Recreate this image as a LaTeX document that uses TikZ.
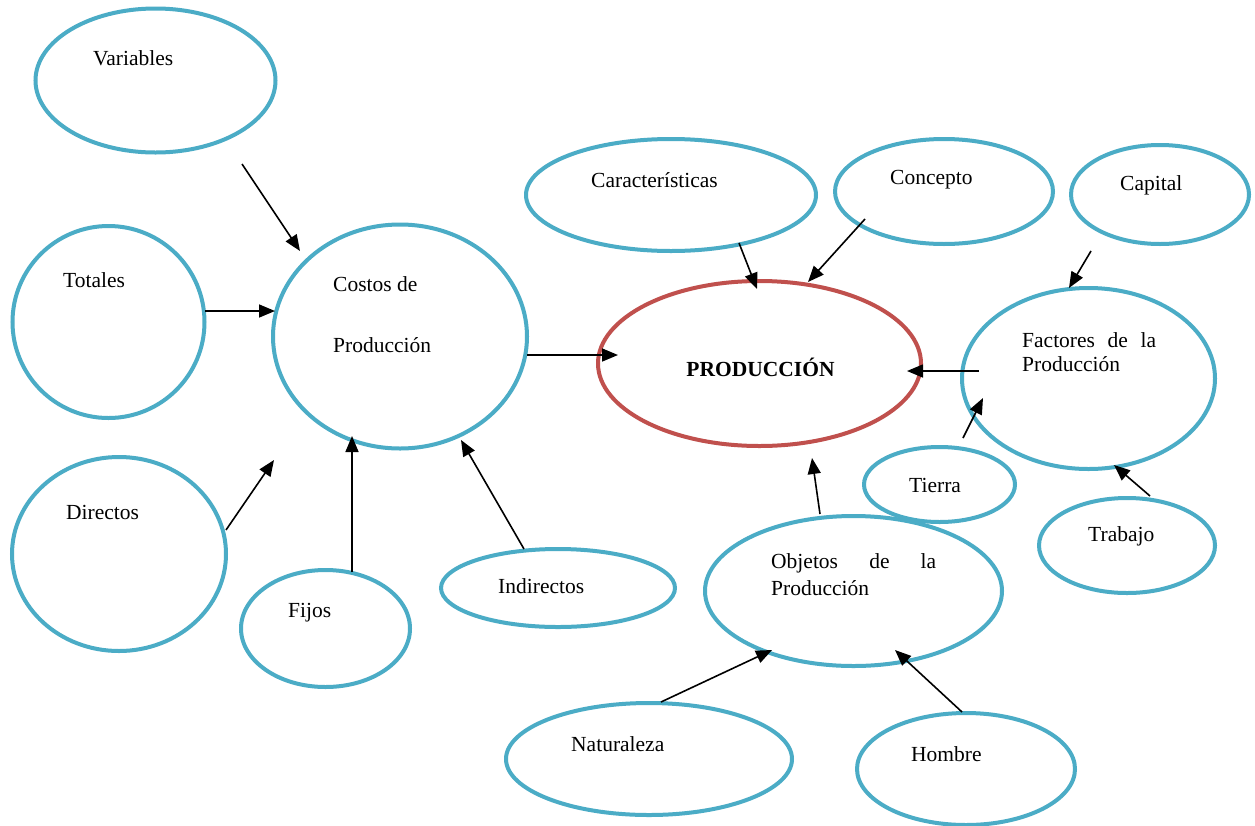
\documentclass[tikz,border=0pt]{standalone}
\usepackage{fontspec}
\setmainfont{Liberation Serif}
\usetikzlibrary{arrows.meta,shapes.geometric}
\definecolor{ovblue}{HTML}{4BACC6}
\definecolor{ovred}{HTML}{C0504D}
\begin{document}
\begin{tikzpicture}[x=1pt,y=-1pt,
  ov/.style={draw=ovblue,line width=4pt,ellipse,inner sep=0pt,outer sep=0pt},
  lbl/.style={anchor=west,inner sep=0pt,font=\fontsize{21.5}{25}\selectfont},
  arr/.style={line width=1.6pt,-{Triangle[length=16pt,width=13pt]}}]
\useasboundingbox (0,0) rectangle (1255,825);
\fill[white] (0,0) rectangle (1255,825);
% ellipses
\node[ov,minimum width=240pt,minimum height=144pt] (var) at (155.5,80.5) {};
\node[ov,minimum width=192pt,minimum height=192pt] (tot) at (108.5,322) {};
\node[ov,minimum width=254pt,minimum height=224pt] (cos) at (400,336.5) {};
\node[ov,minimum width=214pt,minimum height=194pt] (dir) at (119,554) {};
\node[ov,minimum width=169pt,minimum height=117pt] (fij) at (325.5,628.5) {};
\node[ov,minimum width=234pt,minimum height=78pt] (ind) at (558,588) {};
\node[ov,minimum width=290pt,minimum height=112pt] (car) at (671,195) {};
\node[ov,minimum width=218pt,minimum height=105pt] (con) at (944,191.5) {};
\node[ov,minimum width=178pt,minimum height=99pt] (cap) at (1160,194.5) {};
\node[ov,draw=ovred,minimum width=323pt,minimum height=165pt] (pro) at (759.5,363.5) {};
\node[ov,minimum width=253pt,minimum height=181pt] (fac) at (1088.5,378.5) {};
\node[ov,minimum width=151pt,minimum height=75pt] (tie) at (939.5,484.5) {};
\node[ov,minimum width=176pt,minimum height=95pt] (tra) at (1127,545.5) {};
\node[ov,minimum width=297pt,minimum height=150pt] (obj) at (853.5,591) {};
\node[ov,minimum width=286pt,minimum height=112pt] (nat) at (649,759) {};
\node[ov,minimum width=218pt,minimum height=112pt] (hom) at (966,769) {};
% labels
\node[lbl] (tvar) at (93,58) {Variables};
\node[lbl] (ttot) at (63,280) {Totales};
\node[lbl] (tcos1) at (333,284) {Costos de};
\node[lbl] (tcos2) at (333,345) {Producción};
\node[lbl] (tdir) at (66,512) {Directos};
\node[lbl] (tfij) at (288,613) {Fijos};
\node[lbl] (tind) at (498,586) {Indirectos};
\node[lbl] (tcar) at (591,180) {Características};
\node[lbl] (tcon) at (890,180) {Concepto};
\node[lbl] (tcap) at (1120,185) {Capital};
\node[inner sep=0pt,font=\fontsize{21.5}{25}\selectfont\bfseries] (tpro) at (760.5,367) {PRODUCCIÓN};
\node[lbl] (tfac1) at (1022,340) {\makebox[134pt][s]{Factores de la}};
\node[lbl] (tfac2) at (1022,364) {Producción};
\node[lbl] (ttie) at (909,485) {Tierra};
\node[lbl] (ttra) at (1088,536) {Trabajo};
\node[lbl] (tobj1) at (771,563) {\makebox[165pt][s]{Objetos de la}};
\node[lbl] (tobj2) at (771,588) {Producción};
\node[lbl] (tnat) at (571,744) {Naturaleza};
\node[lbl] (thom) at (911,754) {Hombre};
% arrow end points
\coordinate (a1s) at (242,164);  \coordinate (a1e) at (300,251);
\coordinate (a2s) at (205,311);  \coordinate (a2e) at (275,311);
\coordinate (a3s) at (226,530);  \coordinate (a3e) at (274,460);
\coordinate (a4s) at (352,572);  \coordinate (a4e) at (352,436);
\coordinate (a5s) at (524,549);  \coordinate (a5e) at (461,440);
\coordinate (a6s) at (527,355);  \coordinate (a6e) at (618,355);
\coordinate (a7s) at (739,243);  \coordinate (a7e) at (757,289);
\coordinate (a8s) at (865,219);  \coordinate (a8e) at (808,282);
\coordinate (a9s) at (1091,251); \coordinate (a9e) at (1069,288);
\coordinate (a10s) at (979,371); \coordinate (a10e) at (907,371);
\coordinate (a11s) at (963,438); \coordinate (a11e) at (983,398);
\coordinate (a12s) at (1150,496); \coordinate (a12e) at (1114,465);
\coordinate (a13s) at (820,514); \coordinate (a13e) at (812,458);
\coordinate (a14s) at (661,702); \coordinate (a14e) at (772,650);
\coordinate (a15s) at (962,712); \coordinate (a15e) at (895,650);
\foreach \i in {1,...,15} {\draw[arr] (a\i s) -- (a\i e);}
\end{tikzpicture}
\end{document}
